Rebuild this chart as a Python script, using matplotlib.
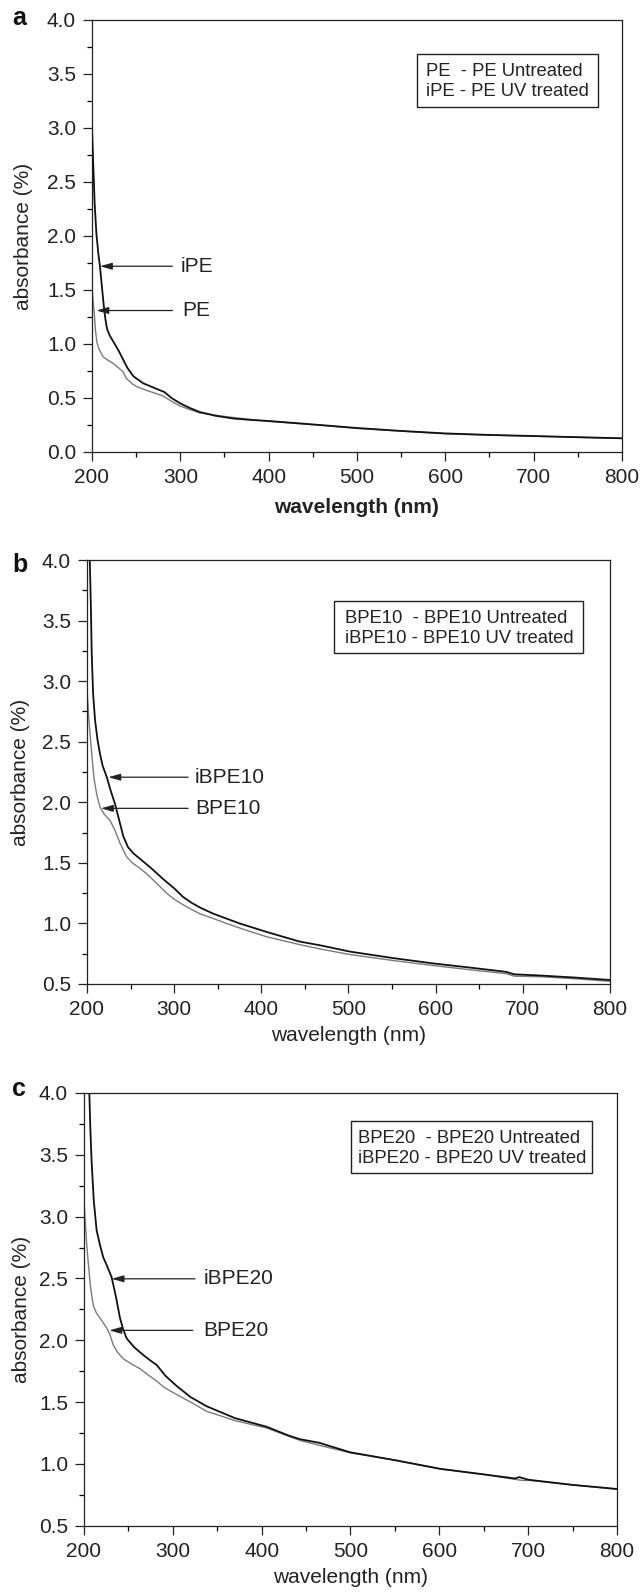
import numpy as np
import matplotlib
matplotlib.use("Agg")
import matplotlib.pyplot as plt
from matplotlib.patches import Rectangle
from matplotlib.ticker import MultipleLocator

plt.rcParams['font.family'] = ['Liberation Sans', 'DejaVu Sans']

## 데이터
# a: PE / iPE
wl_ipe = [200, 201.5, 203, 205, 207, 209, 211, 213, 215, 217, 220, 225, 230, 235, 240, 247,
          258, 273, 282, 290, 300, 310, 322, 340, 360, 380, 400, 435, 458, 500, 550, 600,
          650, 700, 750, 800]
ab_ipe = [3.0, 2.64, 2.30, 2.02, 1.85, 1.72, 1.55, 1.38, 1.24, 1.14, 1.08, 1.01, 0.94, 0.86,
          0.78, 0.70, 0.636, 0.585, 0.555, 0.50, 0.45, 0.41, 0.37, 0.335, 0.31, 0.297, 0.287,
          0.265, 0.25, 0.222, 0.195, 0.172, 0.158, 0.148, 0.137, 0.127]
wl_pe = [200, 201, 202.6, 204, 205.5, 208, 212.8, 218, 224, 230, 235.4, 239, 245, 250.6, 262,
         273, 280, 290, 300, 310, 322, 349, 375, 400, 435, 458, 500, 550, 600, 650, 700, 750,
         800]
ab_pe = [1.55, 1.42, 1.28, 1.12, 1.02, 0.95, 0.88, 0.85, 0.82, 0.78, 0.74, 0.68, 0.635, 0.605,
         0.57, 0.54, 0.52, 0.47, 0.425, 0.395, 0.362, 0.33, 0.305, 0.284, 0.262, 0.248, 0.219,
         0.193, 0.169, 0.156, 0.146, 0.136, 0.126]

# b: BPE10 / iBPE10
wl_ibpe10 = [202.8, 203.2, 204.5, 205.4, 207, 209.2, 212, 214.9, 218, 222.6, 227, 232, 237,
             241.6, 247, 253, 263, 273, 283.7, 290, 300, 310, 320, 330, 345, 375, 406, 444,
             467, 502, 550, 597, 640, 681, 690, 720, 760, 800]
ab_ibpe10 = [4.3, 4.0, 3.6, 3.23, 2.9, 2.68, 2.52, 2.40, 2.30, 2.21, 2.10, 1.99, 1.85, 1.72,
             1.63, 1.58, 1.52, 1.46, 1.39, 1.35, 1.29, 1.22, 1.17, 1.13, 1.08, 1.00, 0.93,
             0.85, 0.82, 0.767, 0.715, 0.67, 0.635, 0.60, 0.58, 0.57, 0.553, 0.533]
wl_bpe10 = [200, 202, 205.4, 208, 211, 214.9, 220, 226.4, 232, 238, 245.5, 252, 260.8, 270,
            280, 291.4, 300, 310, 320, 329.6, 345, 360, 380, 406, 444, 467, 500, 550, 600,
            640, 681, 690, 720, 760, 800]
ab_bpe10 = [2.93, 2.70, 2.40, 2.20, 2.07, 1.96, 1.90, 1.85, 1.77, 1.66, 1.55, 1.50, 1.455,
            1.40, 1.33, 1.25, 1.20, 1.155, 1.115, 1.08, 1.04, 1.00, 0.95, 0.89, 0.825, 0.79,
            0.745, 0.695, 0.65, 0.617, 0.585, 0.565, 0.56, 0.543, 0.522]

# c: BPE20 / iBPE20
wl_ibpe20 = [205.5, 206, 207.2, 208.6, 211, 214.2, 218, 221.7, 226, 231.1, 236, 240.5, 244,
             248, 257, 266.8, 274, 281.8, 292, 304.3, 320, 338.1, 370, 405.7, 430, 443, 465,
             499.4, 550, 600.8, 650, 685, 690, 700, 750, 800]
ab_ibpe20 = [4.3, 4.0, 3.7, 3.44, 3.13, 2.89, 2.77, 2.67, 2.60, 2.51, 2.35, 2.18, 2.09,
             2.015, 1.94, 1.88, 1.84, 1.80, 1.71, 1.63, 1.54, 1.466, 1.37, 1.30, 1.23, 1.20,
             1.17, 1.094, 1.03, 0.96, 0.915, 0.882, 0.893, 0.872, 0.83, 0.797]
wl_bpe20 = [200, 201.5, 203, 204.9, 207.5, 210.5, 214, 218, 225.5, 229, 233, 238, 244.2, 253,
            263, 272, 281.8, 290, 300.5, 320, 338.1, 370, 405.7, 443, 465, 499.4, 550, 600.8,
            650, 685, 695, 700, 750, 800]
ab_bpe20 = [3.13, 2.95, 2.78, 2.62, 2.42, 2.28, 2.22, 2.18, 2.10, 2.05, 1.96, 1.90, 1.85,
            1.81, 1.77, 1.72, 1.67, 1.62, 1.576, 1.50, 1.425, 1.35, 1.29, 1.19, 1.15, 1.09,
            1.03, 0.96, 0.915, 0.875, 0.865, 0.868, 0.83, 0.795]

panels = [
    dict(letter='a', pos=[0.1433, 0.71626, 0.8255, 0.27119], ylim=(0, 4),
         black=(wl_ipe, ab_ipe), grey=(wl_pe, ab_pe), bold_xlabel=True,
         ylab_x=-0.1115, xlab_y=-0.1065, letter_xy=(12, 25),
         arrows=[('iPE', 209, 291, 300, 1.72), ('PE', 205, 291, 302.7, 1.31)],
         legend=(['PE  - PE Untreated', 'iPE - PE UV treated'], (417, 54, 598, 107),
                 425.7, (76, 95.7))),
    dict(letter='b', pos=[0.13551, 0.3823, 0.81464, 0.26616], ylim=(0.5, 4),
         black=(wl_ibpe10, ab_ibpe10), grey=(wl_bpe10, ab_bpe10), bold_xlabel=False,
         ylab_x=-0.109, xlab_y=-0.100, letter_xy=(12, 571.7),
         arrows=[('iBPE10', 224.5, 316, 324, 2.207), ('BPE10', 216, 316, 324, 1.95)],
         legend=(['BPE10  - BPE10 Untreated', 'iBPE10 - BPE10 UV treated'],
                 (334, 601, 583, 653), 345, (623.3, 643.3))),
    dict(letter='c', pos=[0.13084, 0.04225, 0.83022, 0.27163], ylim=(0.5, 4),
         black=(wl_ibpe20, ab_ibpe20), grey=(wl_bpe20, ab_bpe20), bold_xlabel=False,
         ylab_x=-0.0985, xlab_y=-0.098, letter_xy=(12, 1095.6),
         arrows=[('iBPE20', 231.1, 325, 334.3, 2.497), ('BPE20', 228.5, 322.3, 334.3, 2.08)],
         legend=(['BPE20  - BPE20 Untreated', 'iBPE20 - BPE20 UV treated'],
                 (351, 1121, 592, 1173), 358.3, (1143.3, 1163.3))),
]

W, H = 642, 1593
fig = plt.figure(figsize=(W / 100, H / 100), dpi=100)


def fx(x):
    return x / W


def fy(y):
    return 1 - y / H


for p in panels:
    ax = fig.add_axes(p['pos'])
    ax.plot(p['grey'][0], p['grey'][1], color='#7a7a7a', lw=1.0, zorder=2)
    ax.plot(p['black'][0], p['black'][1], color='#111111', lw=1.3, zorder=3)
    ax.set_xlim(200, 800)
    ax.set_ylim(*p['ylim'])
    ax.xaxis.set_major_locator(MultipleLocator(100))
    ax.xaxis.set_minor_locator(MultipleLocator(50))
    ax.yaxis.set_major_locator(MultipleLocator(0.5))
    ax.yaxis.set_minor_locator(MultipleLocator(0.25))
    ax.yaxis.set_major_formatter(plt.FormatStrFormatter('%.1f'))
    ax.tick_params(which='major', direction='out', length=6.5, width=0.9, pad=5,
                   labelsize=15, colors='#222222')
    ax.tick_params(which='minor', direction='out', length=3.5, width=0.9)
    for s in ax.spines.values():
        s.set_linewidth(0.9)
        s.set_color('#222222')

    ax.set_ylabel('absorbance (%)', fontsize=15, color='#222222')
    ax.yaxis.set_label_coords(p['ylab_x'], 0.5)
    ax.set_xlabel('wavelength (nm)', fontsize=15, color='#222222',
                  fontweight='bold' if p['bold_xlabel'] else 'normal')
    ax.xaxis.set_label_coords(0.5, p['xlab_y'])
    ax.xaxis.label.set_va('top')

    for name, head, tail, tx, y in p['arrows']:
        ax.annotate('', xy=(head, y), xytext=(tail, y),
                    arrowprops=dict(arrowstyle='-|>,head_length=0.6,head_width=0.17',
                                    color='#222222', lw=0.9, mutation_scale=12,
                                    shrinkA=0, shrinkB=0))
        ax.text(tx, y, name, fontsize=15, va='center', ha='left', color='#222222')

    lines, (x0, y0, x1, y1), tx, baselines = p['legend']
    fig.add_artist(Rectangle((fx(x0), fy(y1)), fx(x1) - fx(x0), fy(y0) - fy(y1),
                             transform=fig.transFigure, fill=False, lw=1.0,
                             ec='#222222'))
    for line, by in zip(lines, baselines):
        fig.text(fx(tx), fy(by), line, fontsize=13.3, va='baseline', ha='left',
                 color='#222222')

    lx, ly = p['letter_xy']
    fig.text(fx(lx), fy(ly), p['letter'], fontsize=18, fontweight='bold',
             va='baseline', ha='left', color='#111111')

fig.savefig('out.png', dpi=100)
